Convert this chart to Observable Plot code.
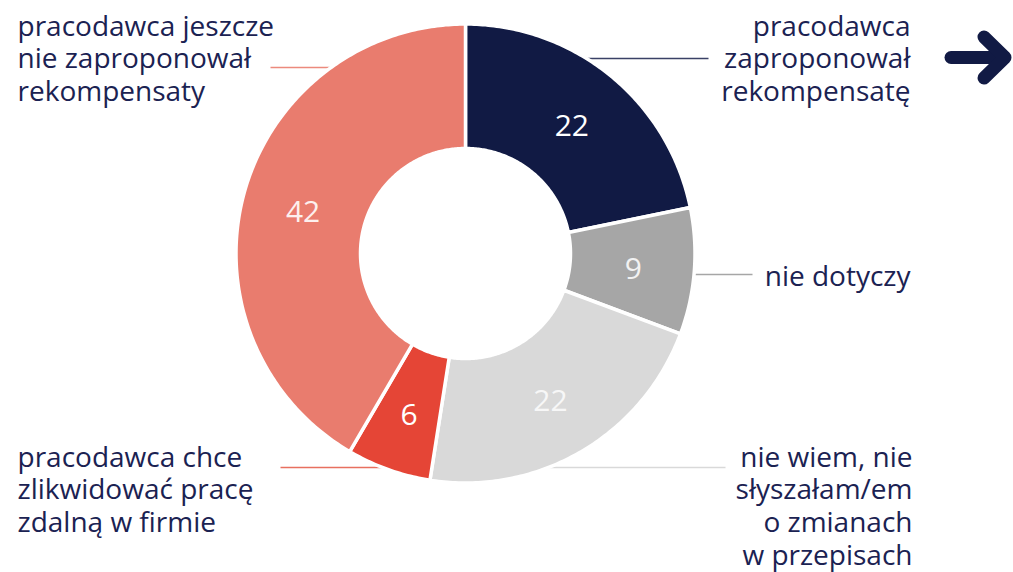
<!DOCTYPE html>
<html><head><meta charset="utf-8">
<script src="https://cdn.jsdelivr.net/npm/d3@7"></script>
<script src="https://cdn.jsdelivr.net/npm/@observablehq/plot@0.6"></script>
<style>
html,body{margin:0;padding:0;background:#fff;}
#wrap{position:relative;width:1013px;height:572px;overflow:hidden;}
#wrap svg.plot{position:absolute;left:0;top:0;}
#arrow{position:absolute;left:0;top:0;}
</style></head><body><div id="wrap"></div>
<script>
// ---- data ----
const categories = [
  "pracodawca zaproponował rekompensatę",
  "nie dotyczy",
  "nie wiem, nie słyszałam/em o zmianach w przepisach",
  "pracodawca chce zlikwidować pracę zdalną w firmie",
  "pracodawca jeszcze nie zaproponował rekompensaty"
];
const values = [22, 9, 22, 6, 42];
const labelTexts = [
  "pracodawca\nzaproponował\nrekompensatę",
  "nie dotyczy",
  "nie wiem, nie\nsłyszałam/em\no zmianach\nw przepisach",
  "pracodawca chce\nzlikwidować pracę\nzdalną w firmie",
  "pracodawca jeszcze\nnie zaproponował\nrekompensaty"
];
const colors = ["#111a44", "#a6a6a6", "#d9d9d9", "#e54536", "#e97c6e"];
const leaderColors = ["#3a4166", "#a6a6a6", "#d9d9d9", "#e8705f", "#ec8a7d"];
const valueColors = ["#ffffff", "#f2f2f2", "#f7f7f7", "#ffffff", "#fdf0ee"];

// ---- layout (pixels) ----
const W = 1013, H = 572, CX = 465, CY = 253, R_OUT = 229.5, R_IN = 105;
const FS = 28, LH = 1.17, FONT = "'Open Sans', sans-serif";
const layout = [
  {tx: 910, anchor: "end",   base: 35,  ly: 58,  lx: 708},
  {tx: 910, anchor: "end",   base: 285, ly: 274, lx: 752},
  {tx: 912, anchor: "end",   base: 466, ly: 467, lx: 725},
  {tx: 17,  anchor: "start", base: 466, ly: 467, lx: 280},
  {tx: 17,  anchor: "start", base: 35,  ly: 67,  lx: 270}
];
const px = x => x - CX, py = y => CY - y;

// ---- geometry from data ----
const arcs = d3.pie().sort(null).value(d => d)(values);
const poly = [];
arcs.forEach((a, i) => {
  const n = Math.max(10, Math.ceil((a.endAngle - a.startAngle) * 80));
  for (let k = 0; k <= n; k++) {
    const t = a.startAngle + (a.endAngle - a.startAngle) * k / n;
    poly.push({i, x: R_OUT * Math.sin(t), y: R_OUT * Math.cos(t)});
  }
  for (let k = n; k >= 0; k--) {
    const t = a.startAngle + (a.endAngle - a.startAngle) * k / n;
    poly.push({i, x: R_IN * Math.sin(t), y: R_IN * Math.cos(t)});
  }
});
const rMid = (R_OUT + R_IN) / 2 + 1;
const valueLabels = arcs.map((a, i) => {
  const t = (a.startAngle + a.endAngle) / 2;
  return {i, x: rMid * Math.sin(t), y: rMid * Math.cos(t), v: String(values[i])};
});
const leaders = layout.map((l, i) => {
  const dy = CY - l.ly;
  const dx = Math.sqrt(Math.max(0, R_OUT * R_OUT - dy * dy));
  const edge = l.anchor === "end" ? dx - 4 : -dx + 4;
  return {i, x1: px(l.lx), x2: edge, y: py(l.ly)};
});
const textRows = layout.map((l, i) => ({
  i, anchor: l.anchor, x: px(l.tx), y: py(l.base - 0.71 * LH * FS), text: labelTexts[i]
}));

const chart = Plot.plot({
  width: W, height: H,
  marginTop: 0, marginRight: 0, marginBottom: 0, marginLeft: 0,
  x: {domain: [-CX, W - CX], axis: null},
  y: {domain: [CY - H, CY], axis: null},
  color: {type: "identity"},
  style: {background: "transparent", fontFamily: FONT},
  marks: [
    Plot.link(leaders, {x1: "x1", x2: "x2", y1: "y", y2: "y", stroke: d => leaderColors[d.i], strokeWidth: 1.5}),
    Plot.line(poly, {x: "x", y: "y", z: "i", fill: d => colors[d.i], stroke: "white", strokeWidth: 3.5, curve: "linear-closed"}),
    Plot.text(valueLabels, {x: "x", y: "y", dy: 3, text: "v", fill: d => valueColors[d.i], fontSize: 30, fontFamily: FONT}),
    Plot.text(textRows.filter(d => d.anchor === "start"), {x: "x", y: "y", text: "text", textAnchor: "start", lineAnchor: "top", lineHeight: LH, fontSize: FS, fill: "#1b2252", fontFamily: FONT}),
    Plot.text(textRows.filter(d => d.anchor === "end"), {x: "x", y: "y", text: "text", textAnchor: "end", lineAnchor: "top", lineHeight: LH, fontSize: FS, fill: "#1b2252", fontFamily: FONT})
  ]
});
chart.classList.add("plot");
const wrap = document.getElementById("wrap");
wrap.appendChild(chart);
// decorative arrow icon
wrap.insertAdjacentHTML("beforeend",
  '<svg id="arrow" width="1013" height="572"><g fill="none" stroke="#111a44" stroke-width="13" stroke-linecap="round" stroke-linejoin="round">' +
  '<path d="M951,57.5 H1002"/><path d="M984,37 L1005,57.5 L984,78"/></g></svg>');
</script></body></html>
